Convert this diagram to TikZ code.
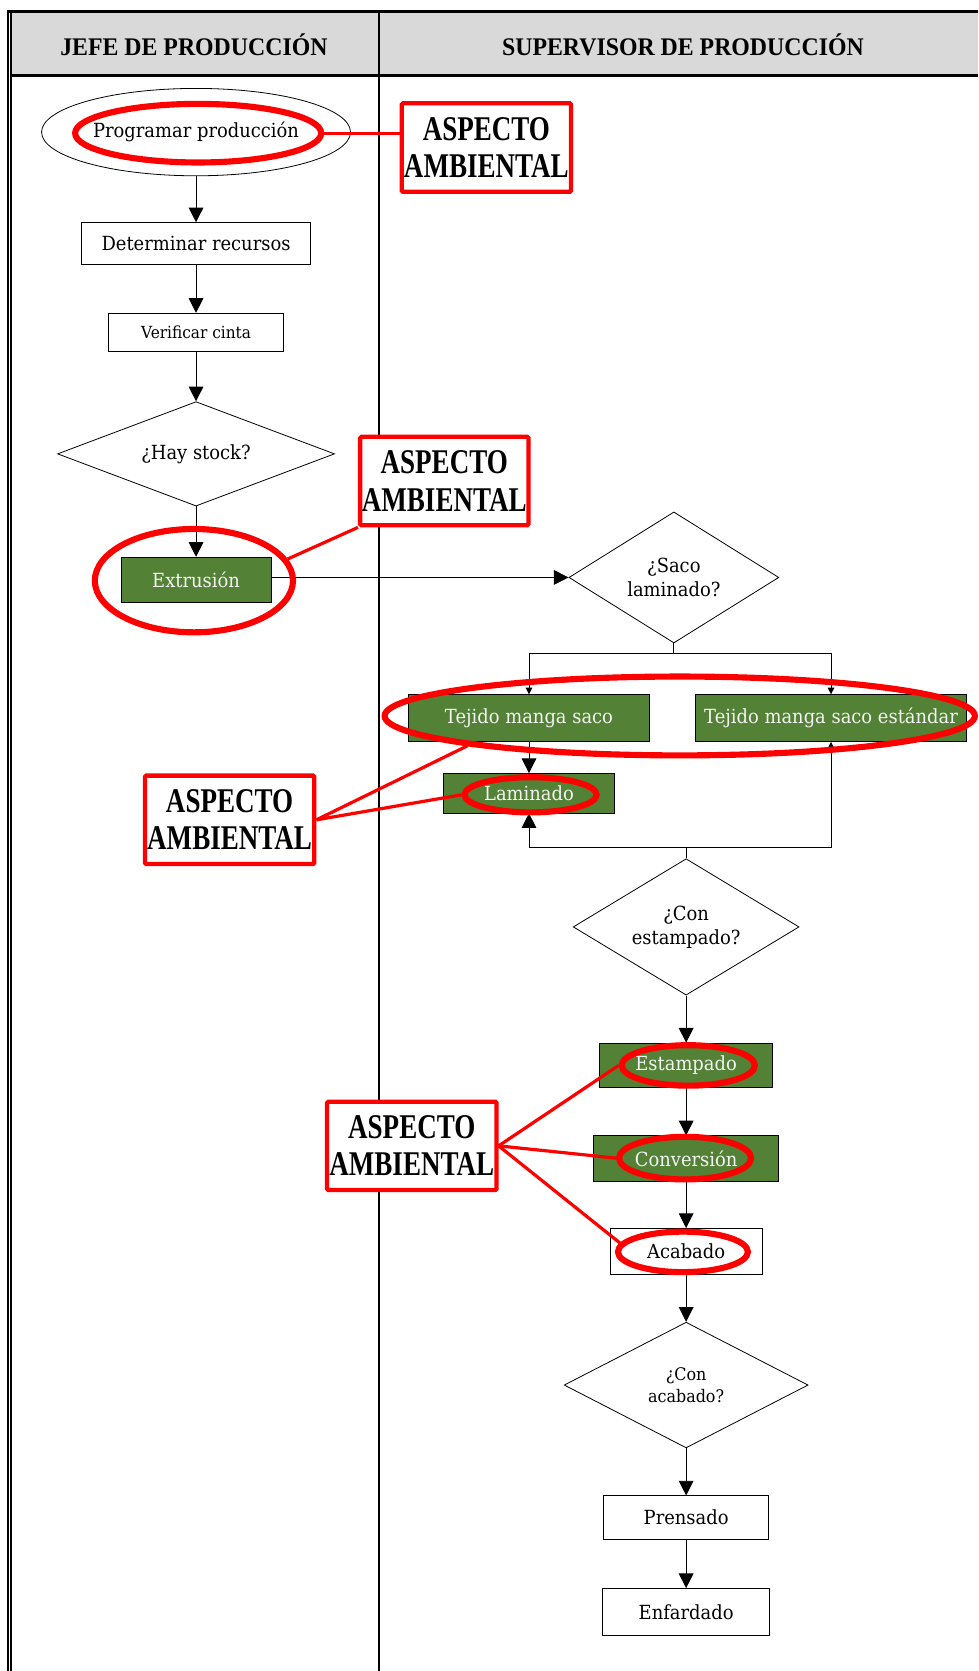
\documentclass[tikz,border=0pt]{standalone}
\usepackage{fontspec}
\setmainfont[FakeStretch=0.92]{DejaVu Serif}
\newfontfamily\headfont[FakeStretch=0.94]{Liberation Serif}
\newfontfamily\aafont[FakeStretch=0.78]{Liberation Serif}
\usetikzlibrary{shapes.geometric, arrows.meta, calc}

\definecolor{boxgreen}{HTML}{538135}
\definecolor{hdrgray}{HTML}{D9D9D9}
\definecolor{hlred}{HTML}{FF0000}
\definecolor{paletext}{HTML}{F4F4F4}

\def\U{0.799pt}

\begin{document}
\begin{tikzpicture}[x=0.799pt, y=-0.799pt,
  dims/.style 2 args={minimum width=#1*\U, minimum height=#2*\U},
  proc/.style={draw=black, line width=0.6pt, rectangle, inner sep=0pt,
    font=\fontsize{14.6}{17.5}\selectfont},
  greenproc/.style={proc, fill=boxgreen, text=paletext},
  decision/.style={draw=black, line width=0.6pt, diamond, inner sep=0pt, align=center,
    font=\fontsize{14.6}{18}\selectfont},
  hdr/.style={font=\headfont\bfseries\fontsize{19}{22}\selectfont, inner sep=0pt},
  flow/.style={line width=0.7pt, -{Triangle[length=11pt,width=11pt]}},
  smallflow/.style={line width=0.7pt, -{Triangle[length=5pt,width=5pt]}},
  thinline/.style={line width=0.7pt},
  hl/.style={draw=hlred, line width=4.6pt, ellipse, inner sep=0pt},
  aabox/.style={draw=hlred, line width=3.2pt, fill=white, inner sep=0pt, rounded corners=1pt,
    align=center, font=\aafont\bfseries\fontsize{26}{28}\selectfont},
  redlink/.style={draw=hlred, line width=2.4pt}
]
\useasboundingbox (0,0) rectangle (918,1568.4);

% swimlane frame and header
\fill[hdrgray] (9,11) rectangle (918,71);
\draw[line width=2.3pt] (6.5,11) -- (918,11);
\draw[line width=2.3pt] (9,71) -- (918,71);
\draw[line width=1.2pt] (7.6,10) -- (7.6,1568.4);
\draw[line width=1.2pt] (10.4,10) -- (10.4,1568.4);
\draw[line width=1.3pt] (355.5,10) -- (355.5,1568.4);
\node[hdr] (lane1) at (182,42) {JEFE DE PRODUCCIÓN};
\node[hdr] (lane2) at (641,42) {SUPERVISOR DE PRODUCCIÓN};

% process nodes
\node[draw=black, line width=0.6pt, ellipse, inner sep=0pt, dims={290}{82},
  font=\fontsize{14.6}{17.5}\selectfont] (prog) at (184,124) {Programar producción};
\node[proc, dims={215}{39}] (det) at (184,228.5) {Determinar recursos};
\node[proc, dims={164}{36}, font=\fontsize{12.5}{15}\selectfont] (ver) at (184,312) {Verificar cinta};
\node[decision, dims={260}{98}, aspect=2.65] (stock) at (184,426) {¿Hay stock?};
\node[greenproc, dims={141}{42}] (extr) at (184,544) {Extrusión};
\node[decision, dims={197}{123}, aspect=1.6] (saco) at (632.5,542) {¿Saco\\laminado?};
\node[greenproc, dims={226}{44}] (tms) at (496.5,674) {Tejido manga saco};
\node[greenproc, dims={254}{44}] (tmse) at (780,674) {Tejido manga saco estándar};
\node[greenproc, dims={160}{37}] (lam) at (496.5,744.5) {Laminado};
\node[decision, dims={212}{128}, aspect=1.65] (est) at (644,870) {¿Con\\estampado?};
\node[greenproc, dims={162}{42}] (estamp) at (644,1000) {Estampado};
\node[greenproc, dims={174}{43}] (conv) at (644,1087.5) {Conversión};
\node[proc, dims={143}{43}] (acab) at (644,1174.5) {Acabado};
\node[decision, dims={229}{118}, aspect=1.95, font=\fontsize{13}{16.8}\selectfont] (acdiam) at (644,1300) {¿Con\\acabado?};
\node[proc, dims={155}{41}] (prens) at (644,1424.5) {Prensado};
\node[proc, dims={157}{44}] (enf) at (644,1513) {Enfardado};

% flow connectors
\draw[flow] (prog) -- (det);
\draw[flow] (det) -- (ver);
\draw[flow] (ver) -- (stock);
\draw[flow] (stock) -- (extr);
\draw[flow] (extr.east |- saco.west) -- (saco.west);
\draw[thinline] (saco.south) -- ++(0,9) coordinate (split);
\draw[smallflow] (split) -| (tms.north);
\draw[smallflow] (split) -| (tmse.north);
\draw[flow] (tms) -- (lam);
\draw[thinline] (est.north) -- ++(0,-10) coordinate (loop);
\draw[flow] (loop) -| (lam.south);
\draw[smallflow] (loop) -| (tmse.south);
\draw[flow] (est) -- (estamp);
\draw[flow] (estamp) -- (conv);
\draw[flow] (conv) -- (acab);
\draw[flow] (acab) -- (acdiam);
\draw[flow] (acdiam) -- (prens);
\draw[flow] (prens) -- (enf);

% environmental aspect highlights
\node[hl, dims={231}{55}] (hprog) at (186,125) {};
\node[hl, dims={186}{97}] (hext) at (182,545) {};
\node[hl, dims={554}{74}] (htej) at (638,672) {};
\node[hl, dims={124}{33}] (hlam) at (498,746) {};
\node[hl, dims={125}{38}] (hestamp) at (646,1000) {};
\node[hl, dims={124}{40}] (hconv) at (643,1087) {};
\node[hl, dims={122}{38}] (hacab) at (641,1175) {};

\node[aabox, dims={159}{83}] (aa1) at (456.5,138.5) {ASPECTO\\AMBIENTAL};
\node[aabox, dims={158}{83}] (aa2) at (417,451.5) {ASPECTO\\AMBIENTAL};
\node[aabox, dims={159}{83}] (aa3) at (215.5,769.5) {ASPECTO\\AMBIENTAL};
\node[aabox, dims={159}{83}] (aa4) at (386.5,1075.5) {ASPECTO\\AMBIENTAL};

\draw[redlink] (hprog.east) -- (hprog.east -| aa1.west);
\draw[redlink] (hext.13) -- (aa2.south west);
\draw[redlink] (aa3.east) -- (htej.188);
\draw[redlink] (aa3.east) -- (hlam.west);
\draw[redlink] (aa4.east) -- (hestamp.west);
\draw[redlink] (aa4.east) -- (hconv.west);
\draw[redlink] (aa4.east) -- (hacab.172);
\end{tikzpicture}
\end{document}
